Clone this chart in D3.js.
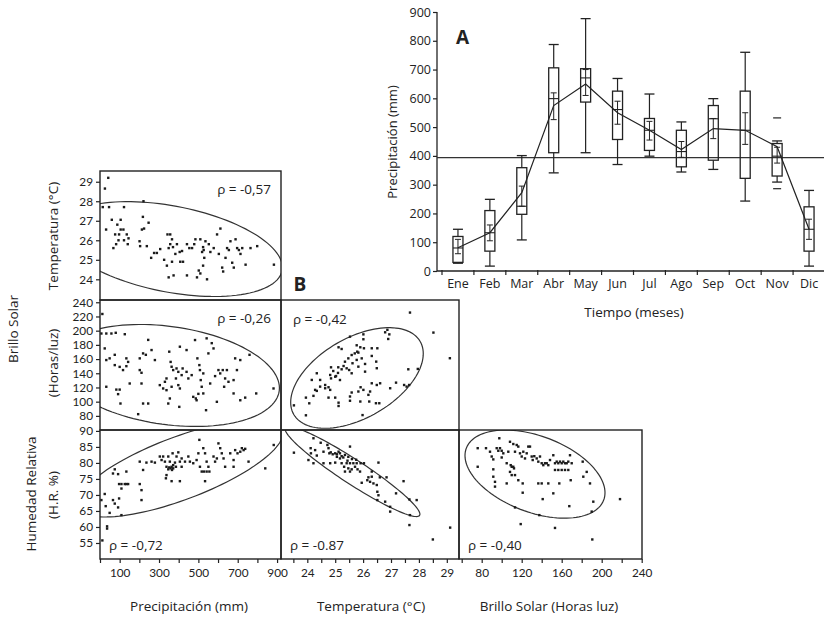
<!DOCTYPE html>
<html>
<head>
<meta charset="utf-8">
<script src="https://cdn.jsdelivr.net/npm/d3@7"></script>
<style>
  body { margin: 0; background: #fff; }
  svg { display: block; }
  text { font-family: "Open Sans", sans-serif; fill: #222; }
  .tickB text { font-family: Lato, "Open Sans", sans-serif; }
</style>
</head>
<body>
<svg id="chart" width="824" height="618"></svg>
<script>
// ---- Panel A: monthly precipitation (mm) ----
const months = ['Ene', 'Feb', 'Mar', 'Abr', 'May', 'Jun', 'Jul', 'Ago', 'Sep', 'Oct', 'Nov', 'Dic'];
const precMin = [27, 17, 108, 341, 411, 370, 399, 344, 353, 243, 309, 17];
const precQ1 = [30, 69, 197, 411, 587, 457, 419, 362, 385, 322, 330, 69];
const precMed = [80, 133, 225, 599, 671, 561, 489, 415, 529, 489, 399, 145];
const precQ3 = [120, 210, 359, 706, 703, 625, 530, 489, 575, 625, 443, 223];
const precMax = [145, 249, 401, 787, 877, 669, 615, 518, 599, 760, 452, 280];
const precMean = [81, 133, 272, 575, 650, 550, 489, 422, 495, 489, 432, 145];
const precLo = [60, 105, 225, 526, 610, 510, 455, 395, 460, 440, 375, 110];
const precHi = [110, 160, 295, 619, 700, 590, 520, 450, 530, 550, 430, 180];
const precOutliers = [['Nov', 532], ['Nov', 286]];
const precAverage = 394;
const precTicks = [0, 100, 200, 300, 400, 500, 600, 700, 800, 900];

// ---- Panel B: scatter matrix ----
// [precipitación mm, temperatura °C]
const precTemp = [
  [25, 28.65], [42, 29.2], [14, 27.7], [46, 27.7], [122, 27.7], [221, 28.0], [31, 26.55], [60, 27.05],
  [105, 27.05], [88, 26.8], [105, 26.55], [119, 26.55], [77, 26.3], [97, 26.3], [136, 26.3], [145, 26.1],
  [94, 26.0], [82, 25.8], [68, 25.6], [122, 26.0], [141, 25.8], [204, 25.7], [201, 25.95], [213, 26.55],
  [218, 27.2], [224, 26.6], [247, 26.9], [238, 25.7], [260, 25.1], [275, 25.35], [289, 25.35], [306, 25.55],
  [326, 25.0], [340, 24.7], [343, 26.3], [357, 26.3], [357, 25.8], [349, 25.6], [366, 26.05], [371, 25.65],
  [383, 25.3], [366, 24.9], [374, 24.2], [349, 24.1], [405, 25.4], [417, 25.45], [391, 25.8], [408, 24.9],
  [422, 24.9], [442, 25.8], [442, 24.2], [454, 25.6], [468, 25.6], [479, 25.8], [485, 26.05], [493, 24.1],
  [502, 24.45], [510, 24.3], [519, 25.4], [527, 25.5], [510, 26.05], [524, 25.65], [536, 25.95], [524, 24.7],
  [530, 25.1], [544, 24.0], [553, 25.8], [561, 25.4], [578, 25.6], [595, 26.3], [604, 25.3], [612, 26.6],
  [621, 24.6], [626, 24.4], [638, 25.1], [646, 25.6], [655, 25.5], [663, 25.95], [672, 24.85], [680, 24.6],
  [689, 26.05], [697, 25.6], [706, 25.5], [714, 25.3], [723, 25.6], [740, 24.75], [765, 25.6], [799, 25.7],
  [884, 24.75]
];
// [precipitación mm, brillo solar h]
const precBrillo = [
  [12, 223.5], [7, 196], [32, 196], [58, 196], [80, 197], [126, 195], [24, 175], [32, 158.6],
  [49, 161], [75, 166], [75, 151.5], [100, 149], [117, 144.5], [134, 161], [143, 156], [134, 150],
  [32, 121], [83, 117], [100, 117], [92, 110.6], [104, 97.4], [151, 125.6], [202, 161], [219, 168],
  [233, 166], [245, 187], [202, 144.5], [211, 140.7], [211, 125.6], [219, 97.4], [245, 97.4], [194, 82.4],
  [279, 158.6], [262, 172.7], [304, 123.3], [321, 118.6], [330, 128], [338, 116.2], [338, 132.7], [347, 97.4],
  [355, 104.5], [364, 121], [352, 170.4], [359, 156], [364, 149.2], [372, 144.5], [389, 146.8], [398, 142],
  [386, 132.7], [398, 123.3], [406, 118.6], [415, 137.4], [420, 146.8], [406, 177.4], [403, 92.7], [440, 172.7],
  [440, 142], [449, 132.7], [466, 137.4], [474, 106.8], [483, 186.8], [487, 104.5], [491, 102], [495, 161],
  [500, 111], [505, 151.5], [508, 144.5], [512, 130.4], [517, 121], [525, 111.6], [539, 88], [542, 189.2],
  [551, 168], [525, 139.8], [560, 125.6], [568, 182.4], [577, 175], [585, 136], [594, 99.8], [602, 144.5],
  [611, 139.8], [624, 144.5], [631, 121], [636, 132.7], [645, 144.5], [653, 128], [679, 130.4], [679, 111.6],
  [696, 144.5], [687, 161], [713, 158.6], [713, 102], [738, 105.7], [760, 166], [794, 111.6], [882, 118.6]
];
// [precipitación mm, humedad relativa %]
const precHum = [
  [12, 55.8], [36, 60.2], [36, 59.5], [7, 68.4], [24, 70.3], [29, 66.5], [49, 64.4], [66, 68.4],
  [66, 76.7], [75, 78.0], [92, 76.5], [75, 67.3], [92, 66.1], [97, 68.9], [109, 63.7], [97, 73.4],
  [109, 73.4], [126, 73.4], [134, 73.4], [143, 73.4], [109, 72.0], [134, 77.3], [202, 73.4], [211, 71.5],
  [211, 68.4], [202, 80.4], [219, 77.8], [236, 80.1], [262, 80.4], [279, 80.1], [304, 82.0], [313, 80.9],
  [321, 82.0], [330, 80.4], [338, 78.8], [347, 82.0], [355, 80.4], [364, 78.8], [372, 78.3], [369, 83.0],
  [381, 80.1], [389, 82.0], [398, 83.3], [406, 80.4], [415, 81.4], [335, 75.2], [338, 76.2], [364, 74.3],
  [406, 74.3], [347, 78.0], [352, 78.6], [359, 78.3], [366, 77.8], [372, 79.3], [386, 78.8], [415, 78.8],
  [432, 80.4], [449, 82.0], [457, 80.4], [474, 79.9], [491, 80.9], [500, 83.0], [505, 87.2], [508, 78.8],
  [517, 77.3], [528, 77.3], [542, 77.3], [556, 77.3], [525, 84.6], [534, 83.0], [542, 80.4], [551, 78.8],
  [534, 74.3], [577, 82.0], [585, 80.4], [594, 81.4], [602, 86.1], [611, 84.6], [619, 83.0], [628, 81.4],
  [636, 78.8], [662, 83.0], [679, 80.9], [687, 84.0], [699, 83.0], [713, 83.5], [721, 84.6], [730, 84.0],
  [738, 84.4], [679, 78.8], [755, 80.4], [840, 78.3], [883, 85.6]
];
// [temperatura °C, brillo solar h]
const tempBrillo = [
  [27.68, 225.5], [28.52, 197.3], [29.11, 161.2], [26.79, 197.7], [26.94, 194.8], [26.9, 188.3], [26.01, 194.8], [26.01, 187.9],
  [25.53, 191.6], [25.12, 176.6], [25.23, 174.2], [25.83, 169.1], [25.79, 170.4], [25.9, 176.6], [26.03, 175.2], [26.31, 175.2],
  [26.51, 175.2], [25.59, 165.7], [25.47, 161.0], [25.35, 156.3], [25.62, 154.1], [25.77, 158.8], [25.95, 161.0], [25.41, 147.0],
  [25.23, 145.6], [25.11, 148.4], [24.85, 148.4], [24.93, 143.2], [25.17, 130.5], [25.0, 135.2], [24.82, 137.6], [24.85, 132.8],
  [25.03, 136.1], [25.5, 144.6], [25.59, 140], [25.83, 149.3], [26.07, 153.1], [26.07, 142.3], [26.31, 164.4], [26.47, 156.4],
  [26.49, 147.1], [26.87, 201.2], [24.34, 140], [24.16, 130.6], [24.46, 130.6], [24.64, 123.5], [24.46, 121.2], [24.64, 118.9],
  [24.76, 120.3], [24.82, 116.6], [24.28, 116.6], [23.95, 105.7], [24.22, 108.2], [24.34, 115.2], [24.76, 105.7], [25.0, 105.7],
  [25.12, 98.6], [25.12, 93.9], [24.07, 97.7], [23.95, 80.8], [23.52, 94.8], [25.59, 112.9], [25.53, 107.3], [25.53, 101.3],
  [25.83, 114.3], [25.91, 120.3], [26.01, 116.6], [26.25, 114.3], [26.19, 109.6], [25.9, 100.2], [26.22, 100.2], [26.46, 97.8],
  [26.58, 97.8], [26.31, 125.9], [26.49, 123.5], [26.61, 125.9], [26.97, 118.9], [25.98, 81.1], [27.18, 126.8], [27.47, 123.5],
  [27.56, 121.2], [27.65, 123.5], [27.62, 145.6], [27.96, 146.1], [25.77, 179.4], [25.3, 150.2], [25.7, 168.0], [25.1, 140.5]
];
// [temperatura °C, humedad relativa %]
const tempHum = [
  [23.52, 83.2], [24.04, 80.9], [24.22, 79.9], [24.22, 87.7], [24.12, 84.6], [24.13, 83.0], [24.28, 84.0], [24.34, 82.3],
  [24.48, 86.3], [24.58, 83.5], [24.58, 79.9], [24.72, 85.6], [24.76, 84.6], [24.79, 83.0], [24.84, 83.3], [24.91, 82.7],
  [25.0, 83.0], [25.06, 82.7], [25.12, 83.5], [25.17, 83.0], [24.82, 79.9], [25.0, 80.1], [25.06, 81.9], [25.17, 81.4],
  [25.23, 82.1], [25.29, 81.7], [25.35, 82.5], [25.47, 81.9], [25.53, 85.1], [25.23, 79.9], [25.32, 78.8], [25.41, 79.9],
  [25.53, 79.9], [25.65, 79.9], [25.77, 79.9], [25.91, 79.9], [26.03, 79.9], [25.47, 78.3], [25.59, 78.0], [25.71, 78.8],
  [25.8, 78.0], [25.89, 77.3], [25.53, 77.3], [25.35, 77.3], [25.95, 73.8], [26.15, 74.6], [26.25, 74.1], [26.19, 75.5],
  [26.31, 75.7], [26.37, 73.6], [26.31, 77.3], [26.55, 80.1], [26.49, 73.1], [26.51, 71.0], [26.55, 69.9], [26.51, 68.4],
  [26.6, 75.5], [26.84, 75.5], [26.79, 67.9], [26.97, 66.3], [26.97, 64.8], [27.18, 70.5], [27.45, 74.3], [27.66, 68.6],
  [27.92, 68.4], [27.68, 63.7], [27.66, 60.6], [28.5, 56.1], [29.12, 59.8], [25.44, 80.7], [25.6, 81.2], [25.75, 81.0]
];
// [brillo solar h, humedad relativa %]
const brilloHum = [
  [97.6, 87.7], [76, 84.6], [84.3, 84.6], [88.3, 83.5], [90, 82], [91.6, 81.1], [95, 84.6], [96.6, 83.8],
  [98.3, 84.6], [100, 83.8], [100, 81.7], [101.6, 83.0], [105, 79.9], [106.6, 83.5], [108.3, 86.6], [109, 79.3],
  [110, 78.8], [111.6, 78.8], [112.3, 78.3], [111.6, 85.9], [113.3, 83.5], [115, 85.6], [116.6, 85.1], [118.3, 83.0],
  [120, 82], [121.6, 83.5], [123.3, 81.4], [125, 83.0], [126.6, 85.1], [128.3, 85.1], [130, 82], [131, 80.9],
  [132.6, 82.1], [135, 81.4], [136.6, 80.4], [138.3, 82], [140, 79.9], [141.6, 79.3], [143.3, 79.9], [145, 79.9],
  [146.6, 79.3], [148.3, 80.9], [151.6, 82.4], [153.3, 79.9], [155, 80.4], [156.6, 79.9], [158.3, 80.4], [160, 79.9],
  [161.6, 80.4], [163.3, 79.9], [165, 79.9], [166.6, 80.4], [168.3, 82.4], [170, 79.9], [153.3, 77.8], [156.6, 77.8],
  [160, 77.8], [163.3, 77.8], [166.6, 77.8], [91.6, 75.7], [93.3, 74.1], [93.3, 72.6], [105, 73.6], [108.3, 77.2],
  [110, 76.2], [113.3, 76.2], [116.6, 74.6], [121, 73.6], [121, 70.7], [136.6, 73.6], [140, 73.6], [141, 68.7],
  [146.6, 73.6], [151.6, 70.5], [157.6, 73.6], [169, 74.6], [167.6, 66.5], [181, 80.4], [181.6, 75.7], [185, 77.2],
  [188.3, 73.6], [191.6, 67.9], [190, 64.8], [218.3, 68.7], [113.3, 66.1], [137.6, 63.7], [119, 60.9], [153.3, 59.7],
  [190.6, 56.1], [76, 78.8], [91.6, 78.0]
];

// Concentration ellipses: centre and two conjugate semi-axes, in data units
const ellPrecTemp = { c: [360, 25.55], u: [567, -0.943], v: [0, -2.24] };
const ellPrecBrillo = { c: [345, 136.9], u: [567, -17.7], v: [0, -69.6] };
const ellPrecHum = { c: [406, 78.3], u: [525, 11.06], v: [0, -10.4] };
const ellTempBrillo = { c: [25.78, 133.4], u: [2.376, 34.3], v: [0, -62.0] };
const ellTempHum = { c: [25.62, 77.3], u: [2.416, -13.3], v: [0, -4.5] };
const ellBrilloHum = { c: [133.3, 76.5], u: [70, -5.8], v: [0, -12.47] };

const rhoLabels = ['ρ = -0,57', 'ρ = -0,26', 'ρ = -0,42', 'ρ = -0,72', 'ρ = -0.87', 'ρ = -0,40'];

const tempTicks = [24, 25, 26, 27, 28, 29];
const brilloTicks = [80, 100, 120, 140, 160, 180, 200, 220, 240];
const humTicks = [55, 60, 65, 70, 75, 80, 85, 90];
const precXTicks = [0, 100, 200, 300, 400, 500, 600, 700, 800, 900];
const precXLabels = [100, 300, 500, 700, 900];
const tempXTicks = [23.5, 24, 24.5, 25, 25.5, 26, 26.5, 27, 27.5, 28, 28.5, 29];
const brilloXTicks = [60, 80, 100, 120, 140, 160, 180, 200, 220, 240];
const brilloXLabels = [80, 120, 160, 200, 240];

const ink = '#222';
const svg = d3.select('#chart');

// ================= Panel A =================
const xA = d3.scaleBand().domain(months).range([442, 825]);
const yA = d3.scaleLinear().domain([0, 900]).range([271, 12]);
const gA = svg.append('g');

gA.append('line')
  .attr('x1', 437).attr('x2', 437).attr('y1', yA(900)).attr('y2', yA(0))
  .attr('stroke', ink).attr('stroke-width', 1.3);
gA.append('line')
  .attr('x1', 437).attr('x2', 824).attr('y1', yA(0)).attr('y2', yA(0))
  .attr('stroke', ink).attr('stroke-width', 1.3);

const yAxisA = gA.append('g')
  .attr('transform', 'translate(437,0)')
  .call(d3.axisLeft(yA).tickValues(precTicks).tickSize(4).tickPadding(2));
yAxisA.select('.domain').remove();
yAxisA.selectAll('line').attr('stroke', ink).attr('stroke-width', 1.2);
yAxisA.selectAll('text').style('font-size', '12.5px').attr('fill', ink);

// band boundary ticks
const boundaries = months.map(m => xA(m)).concat([xA(months[months.length - 1]) + xA.bandwidth()]);
gA.selectAll('.mtick').data(boundaries).enter().append('line')
  .attr('x1', d => d).attr('x2', d => d)
  .attr('y1', yA(0) - 1).attr('y2', yA(0) + 4)
  .attr('stroke', ink).attr('stroke-width', 1.2);
gA.selectAll('.mlabel').data(months).enter().append('text')
  .attr('x', m => xA(m) + xA.bandwidth() / 2)
  .attr('y', 288)
  .attr('text-anchor', 'middle')
  .style('font-size', '12.5px')
  .text(m => m);

// average reference line
gA.append('line')
  .attr('x1', 437).attr('x2', 824).attr('y1', yA(precAverage)).attr('y2', yA(precAverage))
  .attr('stroke', '#333').attr('stroke-width', 1.1);

const cx = m => xA(m) + xA.bandwidth() / 2;
months.forEach((m, i) => {
  const x = cx(m);
  const g = gA.append('g').attr('stroke', ink).attr('fill', 'none');
  // whiskers
  g.append('line').attr('x1', x).attr('x2', x).attr('y1', yA(precMax[i])).attr('y2', yA(precQ3[i])).attr('stroke-width', 1.2);
  g.append('line').attr('x1', x).attr('x2', x).attr('y1', yA(precQ1[i])).attr('y2', yA(precMin[i])).attr('stroke-width', 1.2);
  g.append('line').attr('x1', x - 5).attr('x2', x + 5).attr('y1', yA(precMax[i])).attr('y2', yA(precMax[i])).attr('stroke-width', 1.3);
  g.append('line').attr('x1', x - 5).attr('x2', x + 5).attr('y1', yA(precMin[i])).attr('y2', yA(precMin[i])).attr('stroke-width', 1.3);
  // box
  g.append('rect')
    .attr('x', x - 5).attr('width', 10)
    .attr('y', yA(precQ3[i])).attr('height', yA(precQ1[i]) - yA(precQ3[i]))
    .attr('stroke-width', 1.3);
  g.append('line').attr('x1', x - 5).attr('x2', x + 5).attr('y1', yA(precMed[i])).attr('y2', yA(precMed[i])).attr('stroke-width', 1.1);
  // mean interval
  g.append('line').attr('x1', x).attr('x2', x).attr('y1', yA(precHi[i])).attr('y2', yA(precLo[i])).attr('stroke-width', 1);
  g.append('line').attr('x1', x - 3).attr('x2', x + 3).attr('y1', yA(precHi[i])).attr('y2', yA(precHi[i])).attr('stroke-width', 1);
  g.append('line').attr('x1', x - 3).attr('x2', x + 3).attr('y1', yA(precLo[i])).attr('y2', yA(precLo[i])).attr('stroke-width', 1);
});
gA.selectAll('.outlier').data(precOutliers).enter().append('line')
  .attr('x1', d => cx(d[0]) - 4).attr('x2', d => cx(d[0]) + 4)
  .attr('y1', d => yA(d[1])).attr('y2', d => yA(d[1]))
  .attr('stroke', ink).attr('stroke-width', 1.2);

// mean line
gA.append('path')
  .datum(months.map((m, i) => [cx(m), yA(precMean[i])]))
  .attr('d', d3.line())
  .attr('fill', 'none').attr('stroke', ink).attr('stroke-width', 1.2);

gA.append('text').attr('x', 456).attr('y', 44).style('font-size', '19px').style('font-weight', 'bold').text('A');
gA.append('text')
  .attr('transform', 'translate(397,142) rotate(-90)')
  .attr('text-anchor', 'middle').style('font-size', '13px')
  .text('Precipitación (mm)');
gA.append('text').attr('x', 634).attr('y', 317).attr('text-anchor', 'middle').style('font-size', '13.5px').text('Tiempo (meses)');

// ================= Panel B =================
const xPrec = d3.scaleLinear().domain([0, 920]).range([100, 281]);
const xTemp = d3.scaleLinear().domain([23.057, 29.437]).range([281, 459]);
const xBrillo = d3.scaleLinear().domain([57.3, 240.3]).range([459, 642]);
const yTemp = d3.scaleLinear().domain([22.94, 29.55]).range([300, 171]);
const yBrillo = d3.scaleLinear().domain([60.1, 243.2]).range([430, 300]);
const yHum = d3.scaleLinear().domain([50, 90.28]).range([559, 430]);

const gB = svg.append('g');
const defs = svg.append('defs');
let clipId = 0;

function panel(xs, ys, pts, ell, rho, rhoPos) {
  const [x0, x1] = xs.range();
  const [y0, y1] = ys.range();
  const id = 'clip' + (clipId++);
  defs.append('clipPath').attr('id', id).append('rect')
    .attr('x', x0).attr('y', y1).attr('width', x1 - x0).attr('height', y0 - y1);
  const g = gB.append('g');
  const inner = g.append('g').attr('clip-path', `url(#${id})`);
  // ellipse
  const ring = d3.range(0, 121).map(k => {
    const t = (2 * Math.PI * k) / 120;
    const dx = ell.u[0] * Math.cos(t) + ell.v[0] * Math.sin(t);
    const dy = ell.u[1] * Math.cos(t) + ell.v[1] * Math.sin(t);
    return [xs(ell.c[0] + dx), ys(ell.c[1] + dy)];
  });
  inner.append('path')
    .attr('d', d3.line().curve(d3.curveLinearClosed)(ring))
    .attr('fill', 'none').attr('stroke', '#333').attr('stroke-width', 1.2);
  inner.selectAll('rect.pt').data(pts).enter().append('rect')
    .attr('x', d => xs(d[0]) - 1.2).attr('y', d => ys(d[1]) - 1.2)
    .attr('width', 2.4).attr('height', 2.4).attr('fill', '#1a1a1a');
  g.append('rect')
    .attr('x', x0).attr('y', y1).attr('width', x1 - x0).attr('height', y0 - y1)
    .attr('fill', 'none').attr('stroke', ink).attr('stroke-width', 1.4);
  const t = g.append('text').style('font-size', '13.5px').text(rho);
  if (rhoPos === 'top-right') t.attr('x', x1 - 10).attr('y', y1 + 23).attr('text-anchor', 'end');
  else if (rhoPos === 'top-left') t.attr('x', x0 + 12).attr('y', y1 + 24);
  else t.attr('x', x0 + 9).attr('y', y0 - 9);
}

panel(xPrec, yTemp, precTemp, ellPrecTemp, rhoLabels[0], 'top-right');
panel(xPrec, yBrillo, precBrillo, ellPrecBrillo, rhoLabels[1], 'top-right');
panel(xTemp, yBrillo, tempBrillo, ellTempBrillo, rhoLabels[2], 'top-left');
panel(xPrec, yHum, precHum, ellPrecHum, rhoLabels[3], 'bottom-left');
panel(xTemp, yHum, tempHum, ellTempHum, rhoLabels[4], 'bottom-left');
panel(xBrillo, yHum, brilloHum, ellBrilloHum, rhoLabels[5], 'bottom-left');

function styleAxis(sel) {
  sel.attr('class', 'tickB');
  sel.select('.domain').remove();
  sel.selectAll('line').attr('stroke', ink).attr('stroke-width', 1.2);
  sel.selectAll('text').style('font-size', '11.8px').attr('fill', ink);
}

// left axes
[[yTemp, tempTicks], [yBrillo, brilloTicks], [yHum, humTicks]].forEach(([ys, ticks]) => {
  gB.append('g').attr('transform', 'translate(100,0)')
    .call(d3.axisLeft(ys).tickValues(ticks).tickSize(4).tickPadding(3).tickFormat(d3.format('d')))
    .call(styleAxis);
});

// bottom axes
gB.append('g').attr('transform', 'translate(0,559)')
  .call(d3.axisBottom(xPrec).tickValues(precXTicks).tickSize(4).tickPadding(6)
    .tickFormat(d => (precXLabels.includes(d) ? d : '')))
  .call(styleAxis);
gB.append('g').attr('transform', 'translate(0,559)')
  .call(d3.axisBottom(xTemp).tickValues(tempXTicks).tickSize(4).tickPadding(6)
    .tickFormat(d => (Number.isInteger(d) ? d : '')))
  .call(styleAxis);
gB.append('g').attr('transform', 'translate(0,559)')
  .call(d3.axisBottom(xBrillo).tickValues(brilloXTicks).tickSize(4).tickPadding(6)
    .tickFormat(d => (brilloXLabels.includes(d) ? d : '')))
  .call(styleAxis);

// axis titles
const vText = (x, y, s) => gB.append('text')
  .attr('transform', `translate(${x},${y}) rotate(-90)`)
  .attr('text-anchor', 'middle').style('font-size', '13.5px').text(s);
vText(58, 236, 'Temperatura (°C)');
vText(18, 329, 'Brillo Solar');
vText(58, 363, '(Horas/luz)');
vText(36, 494, 'Humedad Relativa');
vText(58, 495, '(H.R. %)');

const hText = (x, s) => gB.append('text')
  .attr('x', x).attr('y', 611).attr('text-anchor', 'middle').style('font-size', '13.5px').text(s);
hText(189, 'Precipitación (mm)');
hText(371, 'Temperatura (°C)');
hText(549, 'Brillo Solar (Horas luz)');

gB.append('text').attr('x', 300).attr('y', 291).attr('text-anchor', 'middle')
  .style('font-size', '19px').style('font-weight', 'bold').text('B');
</script>
</body>
</html>
